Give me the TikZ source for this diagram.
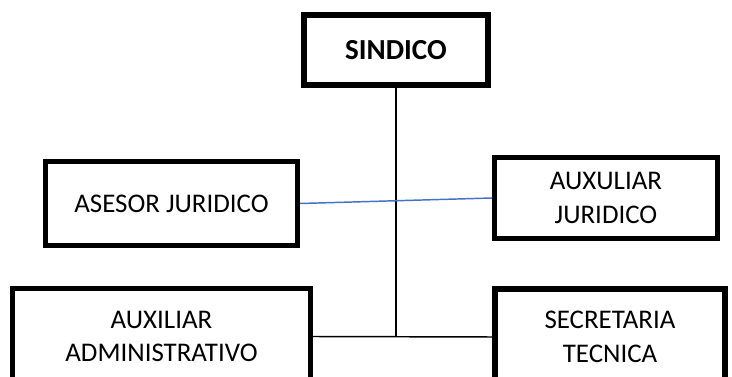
\documentclass[tikz,border=0pt]{standalone}
\usepackage{fontspec}
\setmainfont{Carlito}
\definecolor{linkblue}{HTML}{4472C4}
\begin{document}
\begin{tikzpicture}[x=0.75pt,y=-0.75pt,
  box/.style={draw=black, line width=3.8pt, fill=white, align=center, inner sep=0pt, font=\fontsize{20.2}{25}\selectfont},
  conn/.style={draw=black, line width=1.1pt},
  blueconn/.style={draw=linkblue, line width=1.1pt}]
\useasboundingbox (0,0) rectangle (732,377);
\clip (0,0) rectangle (732,377);
\node[box, minimum width=184*0.75pt, minimum height=70*0.75pt, font=\fontsize{21.8}{25}\selectfont\bfseries] (sindico) at (396,50) {SINDICO};
\node[box, minimum width=252*0.75pt, minimum height=84*0.75pt] (asesor) at (171.5,203.5) {ASESOR JURIDICO};
\node[box, minimum width=223*0.75pt, minimum height=81*0.75pt] (auxjur) at (606,198) {AUXULIAR\\JURIDICO};
\node[box, minimum width=298*0.75pt, minimum height=96*0.75pt] (admin) at (161.5,336.5) {AUXILIAR\\ADMINISTRATIVO};
\node[box, minimum width=230*0.75pt, minimum height=96*0.75pt] (secre) at (610,337) {SECRETARIA\\TECNICA};
\coordinate (junc) at (396,337);
\draw[conn] (sindico.south) -- (junc);
\draw[conn] (admin.east) -- (secre.west);
\draw[blueconn] (asesor.east) -- (auxjur.west);
\end{tikzpicture}
\end{document}
